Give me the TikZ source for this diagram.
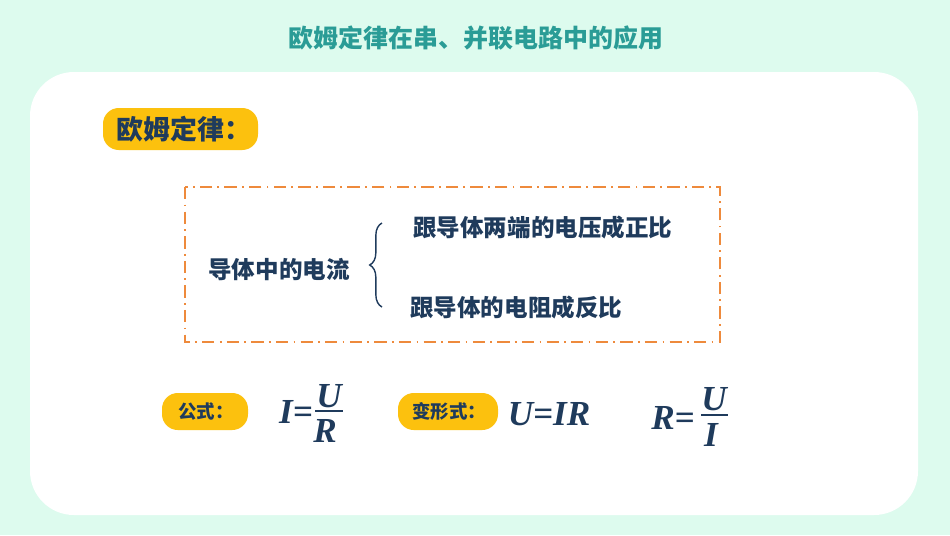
\documentclass[tikz,border=0pt]{standalone}
\usepackage{fontspec}
\setmainfont{Liberation Serif}
\newfontfamily\cjk{Noto Sans CJK SC}
\usetikzlibrary{decorations.pathreplacing}
\definecolor{bgmint}{HTML}{DDFBEE}
\definecolor{titleteal}{HTML}{2A9C96}
\definecolor{pill}{HTML}{FCC10E}
\definecolor{navy}{HTML}{1F3B5C}
\definecolor{orangeln}{HTML}{EE8A3C}
\tikzset{
  pillbox/.style={fill=pill,rounded corners=9pt,inner sep=0pt},
  cn/.style={font=\cjk\bfseries\fontsize{13.4}{15}\selectfont,text=navy,inner sep=0pt},
  fm/.style={font=\bfseries\itshape\fontsize{20}{22}\selectfont,text=navy,inner sep=0pt},
  fbar/.style={navy,line width=1.4pt},
}
\begin{document}
\begin{tikzpicture}[x=0.02cm,y=-0.02cm]
\fill[bgmint] (0,0) rectangle (950,535);
\node[font=\cjk\bfseries\fontsize{14.2}{16}\selectfont,text=titleteal] (title) at (476,38) {欧姆定律在串、并联电路中的应用};
\fill[white,rounded corners=25pt] (30,72) rectangle (918,515);
\fill[pillbox] (103,108) rectangle (258,150);
\node[font=\cjk\bfseries\fontsize{15.3}{18}\selectfont,text=navy] (ohm) at (184,129) {欧姆定律：};
\draw[orangeln,line width=1.2pt,dash pattern=on 7pt off 3pt on 1pt off 3pt] (185,187) rectangle (720,342);
\node[cn] (cur) at (279,270) {导体中的电流};
\draw[navy,line width=0.8pt,decorate,decoration={brace,amplitude=7pt}] (382,307) -- (382,223);
\node[cn,anchor=west] (l1) at (413,228) {跟导体两端的电压成正比};
\node[cn,anchor=west] (l2) at (410,308) {跟导体的电阻成反比};
\fill[pillbox] (162,393) rectangle (248,430);
\node[cn,font=\cjk\bfseries\fontsize{10.5}{12}\selectfont] (gs) at (206,411.5) {公式：};
\node[fm] (f1) at (296,412) {I=};
\node[fm] (f1n) at (329,396) {U};
\node[fm] (f1d) at (325,431) {R};
\draw[fbar] (315,411) -- (343,411);
\fill[pillbox] (398,393) rectangle (498,430);
\node[cn,font=\cjk\bfseries\fontsize{10.5}{12}\selectfont] (bx) at (449,411.5) {变形式：};
\node[fm] (f2) at (549,414) {U=IR};
\node[fm] (f3) at (673,418) {R=};
\node[fm] (f3n) at (714,399) {U};
\node[fm] (f3d) at (711,435) {I};
\draw[fbar] (701,415) -- (728,415);
\end{tikzpicture}
\end{document}
